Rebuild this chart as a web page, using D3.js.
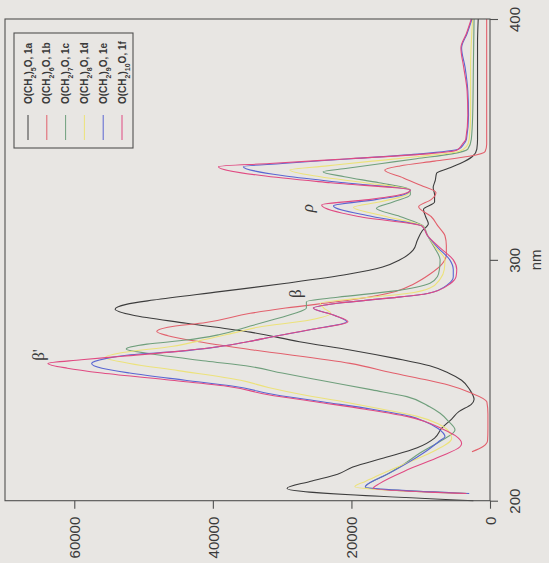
<!DOCTYPE html>
<html><head><meta charset="utf-8">
<script src="https://cdn.jsdelivr.net/npm/d3@7"></script>
<style>html,body{margin:0;padding:0;background:#e8e6e3;}svg{display:block}</style>
</head><body>
<svg id="chart" width="549" height="563"></svg>
<script>
// ---- data: [wavelength nm, epsilon] ----
const nmTicks = [200, 300, 400];
const epsTicks = [0, 20000, 40000, 60000];
const seriesIds = ["1a", "1b", "1c", "1d", "1e", "1f"];
const chainLengths = ["5", "6", "7", "8", "9", "10"];
const seriesColors = ["#3c3c3c", "#e2606c", "#6f9f7c", "#ece27a", "#5a66d2", "#e04a82"];

const s1a = [[200,2400],[205.1,29300],[208,26000],[211,22000],[214,19800],[218,15000],[222,10500],[226,8000],[230,7000],[234,5500],[237,4500],[240,2700],[242,2300],[246,2900],[250,4100],[253,6000],[256,8700],[259,13500],[262.6,20200],[266,27500],[270,34600],[273.7,43800],[277,51500],[279.5,54100],[281.5,52500],[283.3,48600],[286.8,39000],[290.3,29400],[294,20500],[297,15500],[300,13000],[304,11100],[308,10500],[312,9800],[315,8900],[318,9300],[321,9600],[324,8000],[327,8000],[330,8200],[333,7900],[336,7700],[338,6000],[340,4300],[343,2500],[346,1900],[350,1800],[370,1800],[390,1800],[400,1700]];
const s1b = [[220.3,2600],[222.5,1000],[225,350],[230,300],[236,300],[241,450],[245,3000],[248,6000],[250,8900],[253,14000],[257,20200],[262.6,34200],[266,42000],[268.5,46500],[270.2,48100],[272,46500],[274,41000],[277.8,34600],[280,29500],[283.3,20200],[287,13500],[290,11000],[294,8700],[298,7000],[302,6300],[306,6300],[310,6500],[314,7500],[318,8500],[322,10300],[325,8500],[328,7800],[331,10000],[334,12500],[337.3,15200],[339,13000],[341,8000],[343,3000],[345,700],[348,480],[400,480]];
const s1c = [[203,3300],[205.6,18000],[208,17000],[210,15500],[215,12500],[220,10000],[225,7000],[229.4,5050],[233,6000],[236.3,7200],[239,8700],[243.2,12000],[246,17000],[250,24500],[253,30000],[255.7,34600],[258,41000],[261,49000],[263,52500],[265,49500],[266.7,43800],[269,39000],[272.5,34600],[275,31500],[277.5,28500],[280,26500],[282.6,26500],[284.5,22000],[287,14000],[290.3,8660],[293,7600],[296,7300],[300,7200],[305,8000],[310,9000],[314,9600],[318,13000],[321.4,16400],[324,14000],[327,11500],[329,11500],[332,16000],[334.5,21000],[336.6,24100],[338,20600],[340,15600],[342,10600],[344,5500],[346,3200],[350,2700],[360,2500],[380,2400],[400,2300]];
const s1d = [[203,3300],[205.8,19500],[208,18000],[210,16500],[215,12500],[220,8500],[225.9,5530],[229,6000],[232,7500],[235,10500],[238,15500],[241,21000],[244,27000],[247,32000],[250,36000],[254,45000],[257,52000],[259.5,55500],[261.5,53000],[264,46000],[267,41000],[270,36500],[272,33500],[275,26000],[277.8,23000],[280,24000],[282,24500],[284,19000],[286,12000],[288.3,8660],[292,7200],[296,6600],[300,6500],[305,7800],[310,9000],[314,9700],[318,15000],[321.8,19700],[324,16000],[327,12000],[329,11500],[332,18000],[334.5,24500],[337.3,28900],[339,23500],[341,17000],[343,10000],[345,4500],[347,3400],[350,3000],[360,2800],[380,2800],[400,2500]];
const s1e = [[203,3000],[205.8,18000],[208,17000],[210,15500],[215.5,12000],[220,9500],[225,7200],[226.6,6500],[230,7500],[233,9500],[235,11500],[238,17000],[241,24000],[244,31000],[247.5,37000],[250,44000],[253,52000],[255,56000],[257,57500],[259,55500],[260.6,51900],[262,45000],[264,39000],[266,35000],[268,31500],[271,26000],[274.3,20700],[277,22500],[280,25500],[282,22000],[284,15000],[286,9000],[290,6000],[293,5300],[296,5300],[300,5800],[305,7500],[310,9000],[314,9800],[318,17000],[322.4,22600],[325,16500],[327,12500],[329,11500],[332,21000],[335,30000],[338.7,35600],[340,30000],[342,20000],[344,10000],[346,4500],[348,3800],[350,3400],[360,3100],[370,3200],[380,3600],[388,4100],[394,3300],[400,2600]];
const s1f = [[203,3400],[205.1,16850],[207.2,15900],[212.7,12000],[218.3,7200],[222.4,4330],[223.8,4100],[227,5000],[230,7000],[233,9500],[235,12000],[238,18000],[241,25000],[244,32000],[247.5,38000],[250,46000],[253,56000],[255,61000],[257,63800],[258.5,59000],[260,53000],[262,45000],[264,39000],[266,35000],[268,31500],[271,26000],[274.3,20500],[277,22500],[280,25500],[282,22000],[284,15000],[286,9000],[290,5800],[293,4900],[296,4800],[300,5300],[305,7200],[310,9000],[314,9800],[318,19000],[322.8,24300],[325,17500],[327,13000],[329,11500],[332,23000],[335,33000],[338.7,39200],[340,31800],[342,20400],[344,9000],[345.5,4800],[348,4000],[350,3500],[360,3200],[370,3300],[380,3800],[388,4200],[394,3400],[400,2700]];
const allSeries = [s1a, s1b, s1c, s1d, s1e, s1f];

const annotations = [
  {text: "\u03B2'", nm: 260.5, eps: 65200},
  {text: "\u03B2", nm: 286, eps: 28200},
  {text: "\u03C1", nm: 321.5, eps: 26400}
];

// ---- layout ----
const svg = d3.select("#chart");
svg.append("rect").attr("width", 549).attr("height", 563).attr("fill", "#e8e6e3");

const yNm = d3.scaleLinear().domain([200, 400]).range([500.7, 19]);
const xEps = d3.scaleLinear().domain([0, 70000]).range([490, 5]);

const ink = "#3a3a3a";
const tickFont = "'Liberation Sans', Arial, sans-serif";

const line = d3.line()
  .x(d => xEps(d[1]))
  .y(d => yNm(d[0]))
  .curve(d3.curveMonotoneY);

const plot = svg.append("g");
allSeries.forEach((s, i) => {
  plot.append("path")
    .attr("d", line(s))
    .attr("fill", "none")
    .attr("stroke", seriesColors[i])
    .attr("stroke-width", 1.1);
});

// frame
svg.append("rect")
  .attr("x", xEps(70000)).attr("y", yNm(400))
  .attr("width", xEps(0) - xEps(70000))
  .attr("height", yNm(200) - yNm(400))
  .attr("fill", "none").attr("stroke", "#505050").attr("stroke-width", 1.1);

// epsilon axis (bottom)
const axB = svg.append("g")
  .attr("transform", `translate(0,${yNm(200)})`)
  .call(d3.axisBottom(xEps).tickValues(epsTicks).tickSize(8).tickFormat(d3.format("d")));
axB.select(".domain").remove();
axB.selectAll("line").attr("stroke", "#505050").attr("stroke-width", 1.1);
axB.selectAll("text")
  .attr("transform", "rotate(-90)")
  .attr("x", -16).attr("y", 0).attr("dy", "0.36em")
  .attr("text-anchor", "end")
  .attr("fill", ink)
  .style("font-family", tickFont).style("font-size", "15px");

// nm axis (right)
const axR = svg.append("g")
  .attr("transform", `translate(${xEps(0)},0)`)
  .call(d3.axisRight(yNm).tickValues(nmTicks).tickSize(8).tickFormat(d3.format("d")));
axR.select(".domain").remove();
axR.selectAll("line").attr("stroke", "#505050").attr("stroke-width", 1.1);
axR.selectAll("text")
  .attr("transform", "rotate(-90)")
  .attr("x", 0).attr("y", 25).attr("dy", "0.36em")
  .attr("text-anchor", "middle")
  .attr("fill", ink)
  .style("font-family", tickFont).style("font-size", "15px");

svg.append("text")
  .attr("transform", `translate(536,${yNm(300)}) rotate(-90)`)
  .attr("text-anchor", "middle").attr("dy", "0.36em")
  .attr("fill", ink)
  .style("font-family", tickFont).style("font-size", "15px")
  .text("nm");

// annotations
annotations.forEach(a => {
  svg.append("text")
    .attr("transform", `translate(${xEps(a.eps)},${yNm(a.nm)}) rotate(-90)`)
    .attr("text-anchor", "middle").attr("dy", "0.35em")
    .attr("fill", ink)
    .style("font-family", "'Liberation Serif', 'DejaVu Serif', serif")
    .style("font-style", a.text === "\u03C1" ? "italic" : "normal")
    .style("font-size", "17px")
    .text(a.text);
});

// legend
const leg = svg.append("g");
leg.append("rect").attr("x", 14).attr("y", 33).attr("width", 119).attr("height", 115)
  .attr("fill", "none").attr("stroke", "#505050").attr("stroke-width", 1.1);
seriesIds.forEach((id, i) => {
  const cx = 28 + i * 18.8;
  leg.append("line").attr("x1", cx).attr("x2", cx).attr("y1", 115).attr("y2", 140)
    .attr("stroke", seriesColors[i]).attr("stroke-width", 1);
  const t = leg.append("text")
    .attr("transform", `translate(${cx},104) rotate(-90)`)
    .attr("dy", "0.36em")
    .attr("fill", ink)
    .style("font-family", tickFont).style("font-size", "10px").style("font-weight", "bold");
  t.append("tspan").text("O(CH");
  t.append("tspan").attr("baseline-shift", "sub").style("font-size", "7px").text("2");
  t.append("tspan").text(")");
  t.append("tspan").attr("baseline-shift", "sub").style("font-size", "7px").text(chainLengths[i]);
  t.append("tspan").text("O, " + id);
});
</script>
</body></html>
